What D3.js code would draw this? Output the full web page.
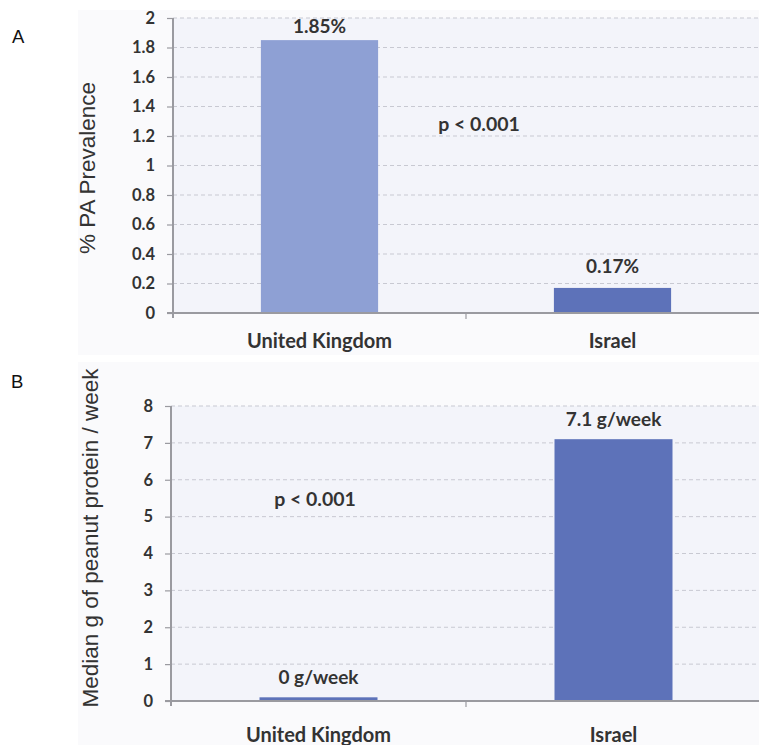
<!DOCTYPE html>
<html>
<head>
<meta charset="utf-8">
<script src="https://cdn.jsdelivr.net/npm/d3@7"></script>
<style>
  html, body { margin: 0; padding: 0; background: #ffffff; }
  svg { display: block; }
</style>
</head>
<body>
<svg id="chart" width="759" height="745"></svg>
<script>
// ---- Data ----
const categories = ["United Kingdom", "Israel"];

const prevalenceValues = [1.85, 0.17];
const prevalenceLabels = ["1.85%", "0.17%"];
const prevalenceTicks = [0, 0.2, 0.4, 0.6, 0.8, 1, 1.2, 1.4, 1.6, 1.8, 2];

const peanutValues = [0.1, 7.1];
const peanutLabels = ["0 g/week", "7.1 g/week"];
const peanutTicks = [0, 1, 2, 3, 4, 5, 6, 7, 8];

const pText = "p < 0.001";

// ---- Drawing ----
const svg = d3.select("#chart");
const tickFont = "Lato, 'Open Sans', sans-serif";
const titleFont = "'Liberation Sans', Arial, sans-serif";

function panel(cfg) {
  const g = svg.append("g");
  const { left, top, width, height } = cfg;

  // chart area background
  g.append("rect")
    .attr("x", cfg.areaX).attr("y", cfg.areaY)
    .attr("width", 759 - cfg.areaX).attr("height", cfg.areaH)
    .attr("fill", "#fafafc");

  // plot area
  g.append("rect")
    .attr("x", left).attr("y", top)
    .attr("width", width).attr("height", height)
    .attr("fill", "#f3f4fa");

  const x = d3.scaleBand().domain(categories).range([left, left + width])
    .paddingInner(0.6).paddingOuter(0.3);
  const y = d3.scaleLinear().domain(cfg.domain).range([top + height, top]);

  // gridlines
  g.append("g").selectAll("line").data(cfg.ticks.filter(t => t !== 0))
    .join("line")
    .attr("x1", left).attr("x2", left + width)
    .attr("y1", d => y(d)).attr("y2", d => y(d))
    .attr("stroke", "#c8c9d2").attr("stroke-width", 1)
    .attr("stroke-dasharray", "4,3");

  // bars
  g.append("g").selectAll("rect").data(cfg.values)
    .join("rect")
    .attr("x", (d, i) => x(categories[i]))
    .attr("width", x.bandwidth())
    .attr("y", d => y(d))
    .attr("height", d => y(0) - y(d))
    .attr("fill", (d, i) => cfg.colors[i]);

  // value labels (kept inside the plot area, as the original does)
  g.append("g").selectAll("text").data(cfg.values)
    .join("text")
    .attr("x", (d, i) => x(categories[i]) + x.bandwidth() / 2)
    .attr("y", d => Math.max(y(d) - cfg.labelGap, top + 15))
    .attr("text-anchor", "middle")
    .attr("font-family", tickFont).attr("font-weight", 700)
    .attr("font-size", cfg.labelSize).attr("fill", "#333")
    .text((d, i) => cfg.labels[i]);

  // y axis
  const yAxis = d3.axisLeft(y).tickValues(cfg.ticks).tickSize(6).tickPadding(12)
    .tickFormat(d3.format("~g"));
  const ya = g.append("g").attr("transform", `translate(${left},0)`).call(yAxis);
  ya.select(".domain").attr("stroke", "#9a9aa0").attr("stroke-width", 2)
    .attr("d", `M0,${y(cfg.domain[1])}V${top + height + 5}`);
  ya.selectAll(".tick line").attr("stroke", "#9a9aa0").attr("stroke-width", 1.2);
  ya.selectAll(".tick text").attr("font-family", tickFont).attr("font-weight", 700)
    .attr("font-size", 16.5).attr("fill", "#333");

  // x axis
  const xa = g.append("g").attr("transform", `translate(0,${top + height})`);
  xa.append("line").attr("x1", left - 6).attr("x2", left + width)
    .attr("y1", 0).attr("y2", 0)
    .attr("stroke", "#9a9aa0").attr("stroke-width", 2);
  xa.append("line")
    .attr("x1", left + x.step()).attr("x2", left + x.step())
    .attr("y1", 0).attr("y2", 6)
    .attr("stroke", "#9a9aa0").attr("stroke-width", 1.2);
  xa.selectAll("text.cat").data(categories).join("text")
    .attr("class", "cat")
    .attr("x", d => x(d) + x.bandwidth() / 2)
    .attr("y", cfg.catY)
    .attr("text-anchor", "middle")
    .attr("font-family", tickFont).attr("font-weight", 700)
    .attr("font-size", 20).attr("fill", "#333")
    .text(d => d);

  // p-value
  g.append("text")
    .attr("x", cfg.pX).attr("y", y(cfg.pY))
    .attr("text-anchor", "middle")
    .attr("font-family", tickFont).attr("font-weight", 700)
    .attr("font-size", 19.5).attr("fill", "#333")
    .text(pText);

  // y title
  g.append("text")
    .attr("transform", `translate(${cfg.titleX},${cfg.titleY}) rotate(-90)`)
    .attr("text-anchor", "middle")
    .attr("font-family", titleFont).attr("font-size", cfg.titleSize)
    .attr("fill", "#333")
    .text(cfg.title);

  // panel letter
  g.append("text")
    .attr("x", cfg.letterX).attr("y", cfg.letterY)
    .attr("font-family", titleFont).attr("font-size", 18.5)
    .attr("fill", "#111")
    .text(cfg.letter);
}

panel({
  left: 173, top: 18, width: 586, height: 295,
  areaX: 78, areaY: 10, areaH: 345,
  domain: [0, 2], ticks: prevalenceTicks,
  values: prevalenceValues, labels: prevalenceLabels,
  colors: ["#8ea0d4", "#5d72b9"],
  labelGap: 15, labelSize: 19,
  catY: 35, pX: 479, pY: 1.235,
  title: "% PA Prevalence", titleX: 95, titleY: 168, titleSize: 22.5,
  letter: "A", letterX: 12, letterY: 43
});

panel({
  left: 171, top: 406, width: 590, height: 295,
  areaX: 78, areaY: 362, areaH: 383,
  domain: [0, 8], ticks: peanutTicks,
  values: peanutValues, labels: peanutLabels,
  colors: ["#5d72b9", "#5d72b9"],
  labelGap: 13, labelSize: 19,
  catY: 41, pX: 315, pY: 5.28,
  title: "Median g of peanut protein / week", titleX: 98, titleY: 538, titleSize: 22.5,
  letter: "B", letterX: 11, letterY: 388
});
</script>
</body>
</html>
